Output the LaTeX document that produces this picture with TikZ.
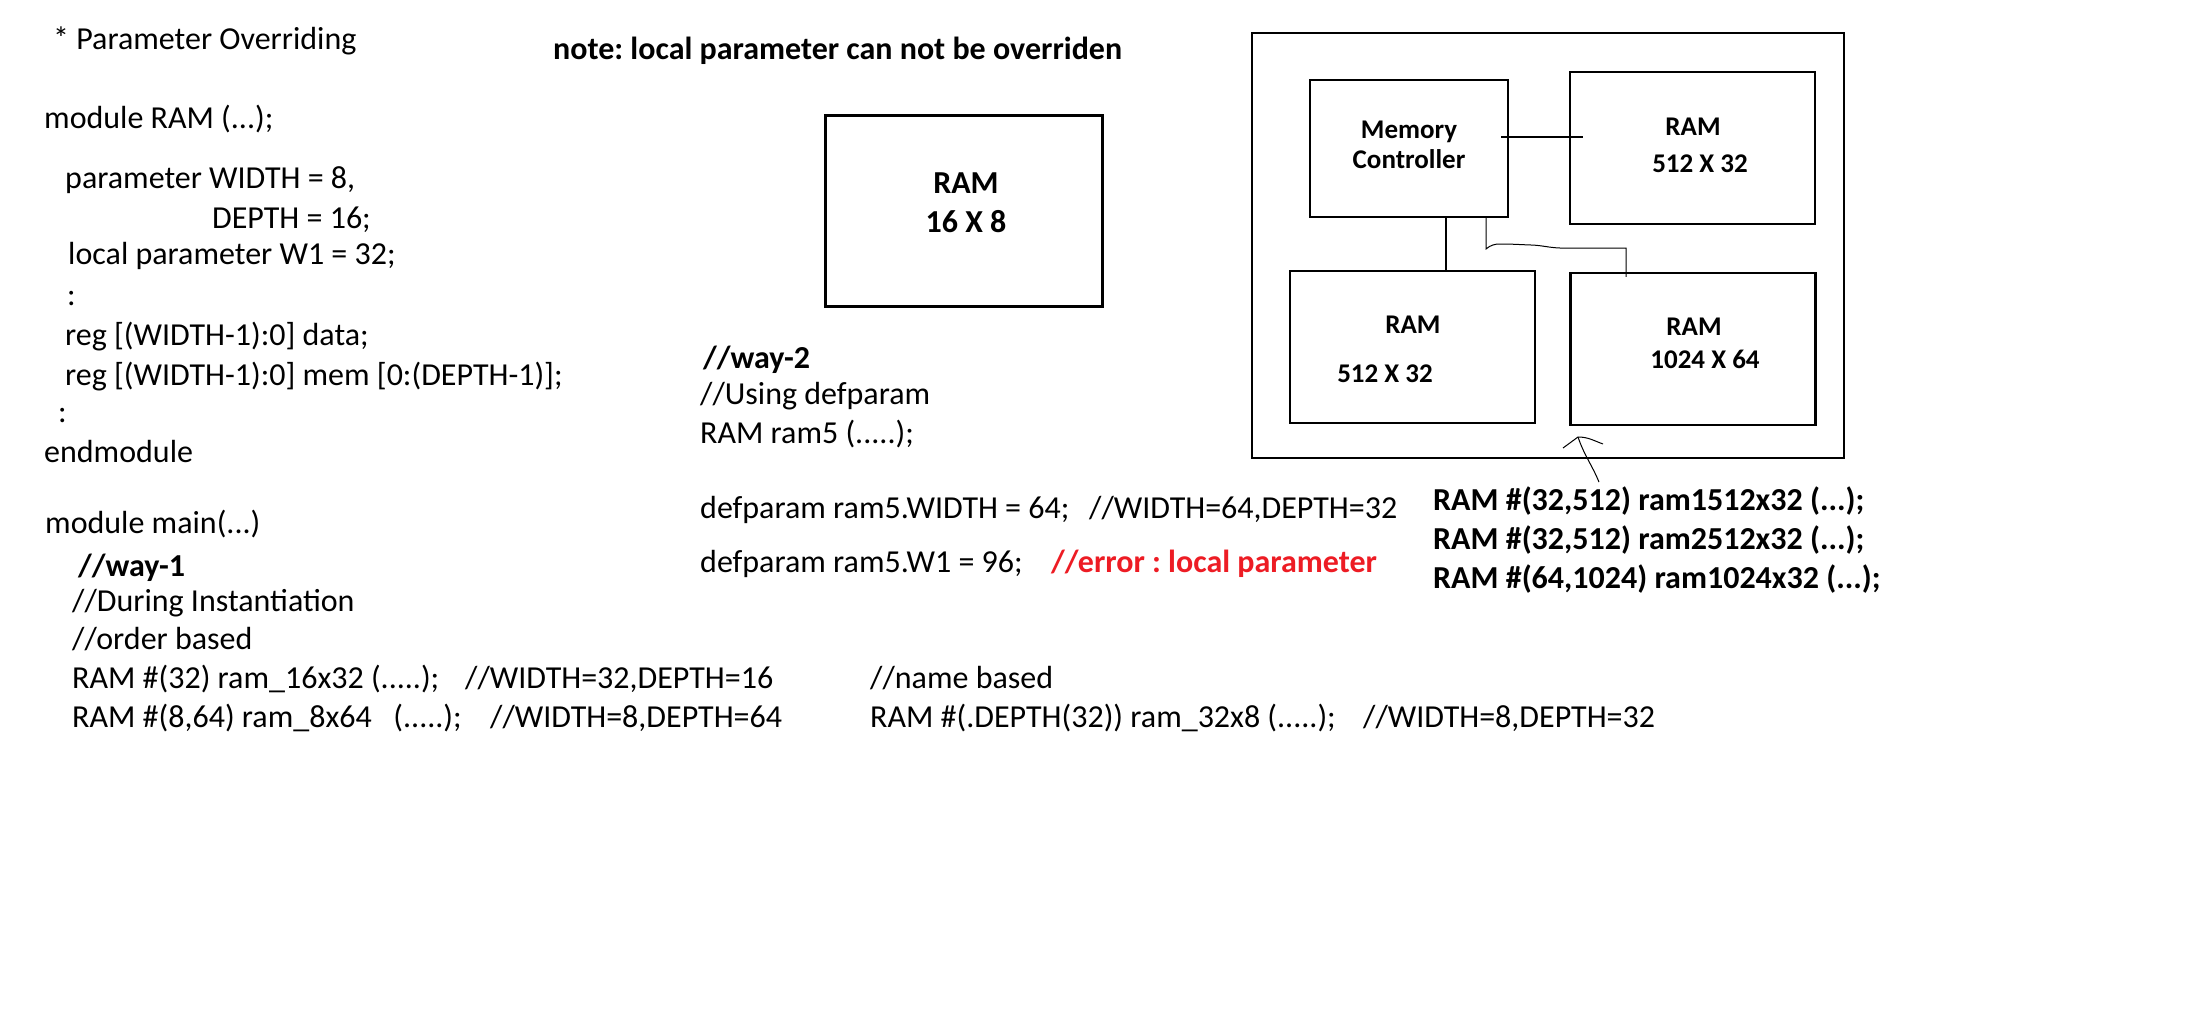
\documentclass[tikz,border=0pt]{standalone}
\usepackage{fontspec}
\setmainfont{Carlito}
\usepackage{xcolor}
\usetikzlibrary{calc}
\definecolor{errred}{RGB}{237,28,36}
\frenchspacing

\begin{document}
\begin{tikzpicture}[x=1pt,y=-1pt,
  txt/.style={anchor=base west,inner sep=0pt,font=\fontsize{32}{38}\selectfont},
  btxt/.style={txt,font=\fontsize{32}{38}\selectfont\bfseries},
  lbl/.style={anchor=base,inner sep=0pt,font=\fontsize{27}{32}\selectfont\bfseries},
  blk/.style={draw,line width=2.5pt,minimum width=245pt,minimum height=152pt,inner sep=0pt},
  wire/.style={line width=1.5pt},
  scribble/.style={line width=1pt}]
\useasboundingbox (0,0) rectangle (2188,1036);

% module RAM
\node[txt] (title) at (53,49) {* Parameter Overriding};
\node[txt] (modram) at (44,128) {module RAM (...);};
\node[txt] (pw) at (65,188) {parameter WIDTH = 8,};
\node[txt] (pd) at (212,228) {DEPTH = 16;};
\node[txt] (lp) at (68,264) {local parameter W1 = 32;};
\node[txt] (dots1) at (67,305) {:};
\node[txt] (rdata) at (65,345) {reg [(WIDTH-1):0] data;};
\node[txt] (rmem) at (65,385) {reg [(WIDTH-1):0] mem [0:(DEPTH-1)];};
\node[txt] (dots2) at (58,422) {:};
\node[txt] (endmod) at (44,462) {endmodule};

% module main, way-1
\node[txt] (modmain) at (45,533) {module main(...)};
\node[btxt] (way1) at (78,576) {//way-1};
\node[txt] (during) at (72,611) {//During Instantiation};
\node[txt] (order) at (72,649) {//order based};
\node[txt] (inst16) at (72,688) {RAM \#(32) ram\_16x32 (.....);};
\node[txt] (cm16) at (465,688) {//WIDTH=32,DEPTH=16};
\node[txt] (inst8) at (72,727) {RAM \#(8,64) ram\_8x64~~~(.....);};
\node[txt] (cm8) at (490,727) {//WIDTH=8,DEPTH=64};
\node[txt] (name) at (870,688) {//name based};
\node[txt] (inst32) at (870,727) {RAM \#(.DEPTH(32)) ram\_32x8 (.....);};
\node[txt] (cm32) at (1363,727) {//WIDTH=8,DEPTH=32};

% note and way-2
\node[btxt] (note) at (553,59) {note: local parameter can not be overriden};
\node[blk,line width=3pt,minimum width=277pt,minimum height=191pt] (ramx) at (963.5,210.5) {};
\node[anchor=base,inner sep=0pt,font=\fontsize{32}{38}\selectfont\bfseries] (ramxa) at (966,193) {RAM};
\node[anchor=base,inner sep=0pt,font=\fontsize{32}{38}\selectfont\bfseries] (ramxb) at (966,232) {16 X 8};
\node[btxt] (way2) at (703,368) {//way-2};
\node[txt] (using) at (700,404) {//Using defparam};
\node[txt] (ram5) at (700,443) {RAM ram5 (.....);};
\node[txt] (defw) at (700,518) {defparam ram5.WIDTH = 64;};
\node[txt] (cmdef) at (1089,518) {//WIDTH=64,DEPTH=32};
\node[txt] (defw1) at (700,572) {defparam ram5.W1 = 96;};
\node[btxt,text=errred] (err) at (1051,572) {//error : local parameter};

% chip
\node[draw,line width=2pt,minimum width=592pt,minimum height=425pt] (chip) at (1548,245.5) {};
\node[draw,line width=2pt,minimum width=198pt,minimum height=137pt] (mc) at (1409,148.5) {};
\node[blk] (ramA) at (1692.5,148) {};
\node[blk] (ramB) at (1412.5,347) {};
\node[blk] (ramC) at (1693,349) {};
\node[lbl] (mca) at (1409,138) {Memory};
\node[lbl] (mcb) at (1409,168) {Controller};
\node[lbl] (ramAa) at (1693,135) {RAM};
\node[lbl] (ramAb) at (1700,172) {512 X 32};
\node[lbl] (ramBa) at (1413,333) {RAM};
\node[lbl] (ramBb) at (1385,382) {512 X 32};
\node[lbl] (ramCa) at (1694,335) {RAM};
\node[lbl] (ramCb) at (1705,368) {1024 X 64};

\coordinate (mcS) at ($(mc.south)+(37,0)$);
\coordinate (mcT) at ($(mc.south)+(77,0)$);
\coordinate (ramCT) at ($(ramC.north)+(-67,5)$);
\draw[wire] ($(mc.east)+(-8,-11.5)$) -- ($(ramA.west)+(14,-11)$);
\draw[wire] (mcS) -- (mcS |- ramB.north);
\draw[scribble] (mcT) -- ++(0,31) to[out=40,in=180] ++(14,-5) to[out=0,in=178] ++(31,1)
  to[out=-2,in=178] ++(29,3) -- (ramCT |- 0,248) -- (ramCT);

% instances
\node[btxt] (inst1) at (1433,510) {RAM \#(32,512) ram1512x32 (...);};
\node[btxt] (inst2) at (1433,549) {RAM \#(32,512) ram2512x32 (...);};
\node[btxt] (inst3) at (1433,588) {RAM \#(64,1024) ram1024x32 (...);};
\coordinate (ptr) at (1578,437);
\draw[scribble] (1563,448) -- (ptr) to[out=0,in=160] (1603,444);
\draw[scribble] (ptr) .. controls (1584,455) and (1592,465) .. ($(inst1.north west)+(166,-4)$);
\end{tikzpicture}
\end{document}
